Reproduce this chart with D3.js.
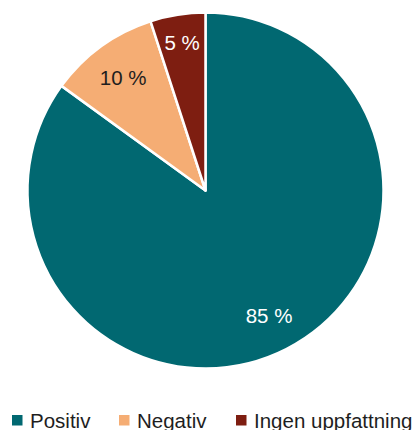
<!DOCTYPE html>
<html><head><meta charset="utf-8">
<script src="https://cdn.jsdelivr.net/npm/d3@7"></script>
<style>html,body{margin:0;padding:0;background:#fff;}svg{display:block;}</style>
</head><body>
<script>
const categories = ["Positiv", "Negativ", "Ingen uppfattning"];
const values = [85, 10, 5];
const labels = ["85 %", "10 %", "5 %"];
const colors = ["#016871", "#F5AD74", "#7E1E11"];
const labelColors = ["#ffffff", "#1e1e1e", "#ffffff"];

const W = 416, H = 430;
const cx = 205.5, cy = 190.5, R = 178;
const FONT = "Liberation Sans, Arial, Helvetica, sans-serif";
const svg = d3.select("body").append("svg").attr("width", W).attr("height", H);
const g = svg.append("g").attr("transform", `translate(${cx},${cy})`);
const data = categories.map((c, i) => ({c, v: values[i], i}));
const pie = d3.pie().value(d => d.v).sort(null);
const arc = d3.arc().innerRadius(0).outerRadius(R);
const arcs = pie(data);
const labelR = d => (d.endAngle - d.startAngle) < 0.5 ? 150 : 140;
g.selectAll("path").data(arcs).join("path")
  .attr("d", arc).attr("fill", d => colors[d.data.i])
  .attr("stroke", "#fff").attr("stroke-width", 2.5).attr("stroke-linejoin", "round");
g.selectAll("text").data(arcs).join("text")
  .attr("transform", d => {
    const r = labelR(d);
    return `translate(${d3.arc().innerRadius(r).outerRadius(r).centroid(d)})`;
  })
  .attr("text-anchor", "middle").attr("dy", "0.36em")
  .attr("font-family", FONT).attr("font-size", 20.5)
  .attr("fill", d => labelColors[d.data.i])
  .text(d => labels[d.data.i]);

const legendX = [12, 119, 236];
const lg = svg.append("g");
const items = lg.selectAll("g").data(data).join("g")
  .attr("transform", (d, i) => `translate(${legendX[i]},0)`);
items.append("rect").attr("y", 415).attr("width", 10.5).attr("height", 10.5).attr("fill", d => colors[d.i]);
items.append("text").attr("x", 18).attr("y", 428)
  .attr("font-family", FONT).attr("font-size", 20.5)
  .attr("fill", "#1e1e1e").text(d => d.c);
</script>
</body></html>
